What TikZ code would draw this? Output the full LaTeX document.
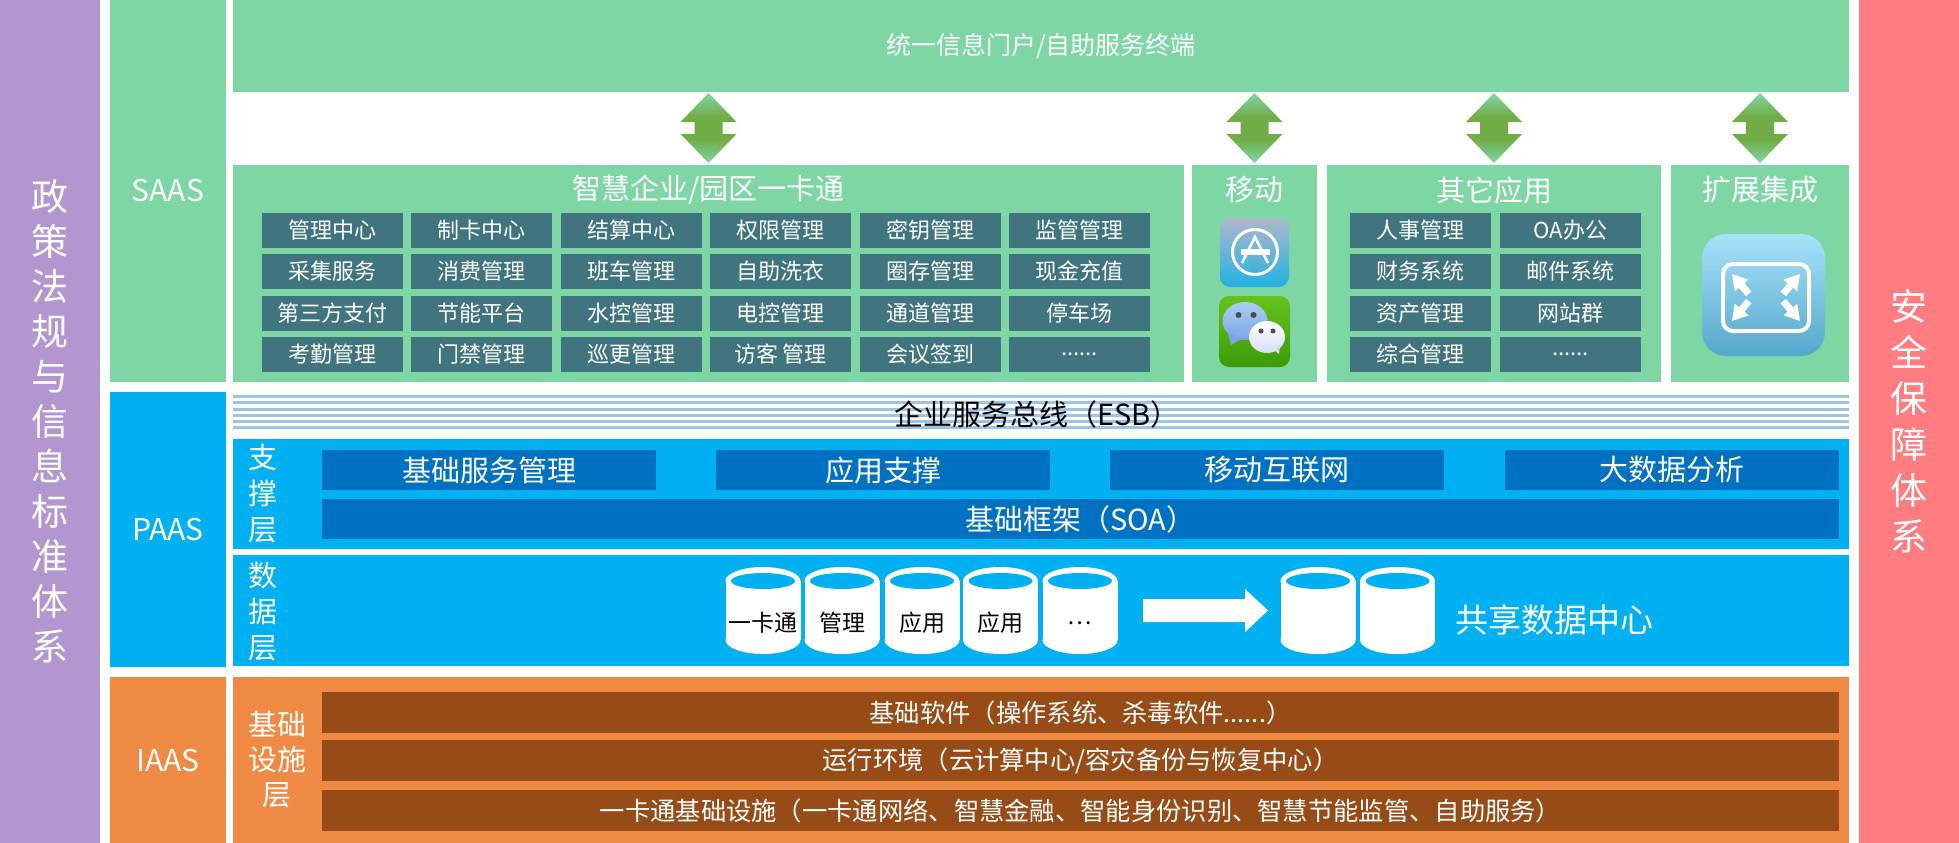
\documentclass[tikz,border=0pt]{standalone}
\usepackage{fontspec}
\setmainfont{Noto Sans CJK SC}
\usepackage{xcolor}
\definecolor{purplebar}{HTML}{B396D0}
\definecolor{redbar}{HTML}{FF7C80}
\definecolor{saasgreen}{HTML}{7FD6A5}
\definecolor{cellteal}{HTML}{40757F}
\definecolor{paasblue}{HTML}{00B0F0}
\definecolor{darkblue}{HTML}{0070C0}
\definecolor{esbstripe}{HTML}{9DC3E6}
\definecolor{iaasorange}{HTML}{EF8A45}
\definecolor{iaasbrown}{HTML}{974C18}
\definecolor{arrowgreen}{HTML}{70AD47}
\definecolor{apptop}{HTML}{AEB7CC}
\definecolor{appmid}{HTML}{0F6CB0}
\definecolor{appbot}{HTML}{22B2E2}
\definecolor{chattop}{HTML}{66C221}
\definecolor{chatbot}{HTML}{3D9A05}
\definecolor{bubbletop}{HTML}{A9CDF3}
\definecolor{bubblebot}{HTML}{7FA5E8}
\definecolor{bubblelow}{HTML}{D5DDF5}
\definecolor{expandtop}{HTML}{A8E2F8}
\definecolor{expandmid}{HTML}{78CDEB}
\definecolor{expandbot}{HTML}{55A8CC}
\newcommand{\fs}[1]{\fontsize{#1}{#1}\selectfont}
\newcommand{\moredots}{.\kern0pt.\kern0pt.\kern0pt.\kern0pt.\kern0pt.}
\pgfdeclareverticalshading{vvshade}{100bp}{color(0bp)=(saasgreen); color(25bp)=(saasgreen); color(42bp)=(arrowgreen); color(58bp)=(arrowgreen); color(75bp)=(saasgreen); color(100bp)=(saasgreen)}
\tikzset{
    box/.style={inner sep=0, text=white},
    cell/.style={box, fill=cellteal, minimum width=141, minimum height=35, font=\fs{22}},
    title/.style={inner sep=0, text=white, font=\fs{29}},
    blue/.style={box, fill=darkblue, minimum height=40, font=\fs{29}},
    brown/.style={box, fill=iaasbrown, minimum width=1517, minimum height=41, font=\fs{25.3}},
    layer/.style={inner sep=0, text=white, align=center, font=\fontsize{29}{36}\selectfont},
    dblabel/.style={inner sep=0, text=black, font=\fs{23}}
}
\begin{document}
\begin{tikzpicture}[x=1pt, y=-1pt]
    \useasboundingbox (0,0) rectangle (1959,843);
    % colonnes
    \node[box, fill=purplebar, minimum width=100, minimum height=843, align=center, font=\fontsize{37}{45}\selectfont] (policy) at (50,421.5) {政\\策\\法\\规\\与\\信\\息\\标\\准\\体\\系};
    \node[box, fill=redbar, minimum width=100, minimum height=843, align=center, font=\fontsize{37}{46}\selectfont] (safety) at (1909,421.5) {安\\全\\保\\障\\体\\系};
    \node[box, fill=saasgreen, minimum width=116, minimum height=382, font=\fs{30}] (saas) at (168,191) {SAAS};
    \node[box, fill=paasblue, minimum width=116, minimum height=275, font=\fs{30}] (paas) at (168,529.5) {PAAS};
    \node[box, fill=iaasorange, minimum width=116, minimum height=166, font=\fs{30}] (iaas) at (168,760) {IAAS};

    % saas
    \node[box, fill=saasgreen, minimum width=1616, minimum height=92, font=\fs{25}] (portal) at (1041,46) {统一信息门户/自助服务终端};
    \foreach \ax in {708.5,1254.5,1494,1760} {
        \shade[shading=vvshade] (\ax,93) -- (\ax+28,122) -- (\ax+14,122) -- (\ax+14,134) -- (\ax+28,134) -- (\ax,163) -- (\ax-28,134) -- (\ax-14,134) -- (\ax-14,122) -- (\ax-28,122) -- cycle;
    }
    \node[box, fill=saasgreen, minimum width=951, minimum height=217] (campus) at (708.5,273.5) {};
    \node[box, fill=saasgreen, minimum width=125, minimum height=217] (mobile) at (1254.5,273.5) {};
    \node[box, fill=saasgreen, minimum width=334, minimum height=217] (other) at (1494,273.5) {};
    \node[box, fill=saasgreen, minimum width=178, minimum height=217] (extend) at (1760,273.5) {};
    \node[title] (campustitle) at (708.5,190) {智慧企业/园区一卡通};
    \node[title] (mobiletitle) at (1254.5,190) {移动};
    \node[title] (othertitle) at (1494,190) {其它应用};
    \node[title] (extendtitle) at (1760,190) {扩展集成};

    \foreach \cy/\ra/\rb/\rc/\rd/\re/\rf [count=\r] in {
        230.5/管理中心/制卡中心/结算中心/权限管理/密钥管理/监管管理,
        271.5/采集服务/消费管理/班车管理/自助洗衣/圈存管理/现金充值,
        313/第三方支付/节能平台/水控管理/电控管理/通道管理/停车场,
        354.5/考勤管理/门禁管理/巡更管理/访客 管理/会议签到/\moredots} {
        \node[cell] (a\r) at (332.5,\cy) {\ra};
        \node[cell] (b\r) at (481.5,\cy) {\rb};
        \node[cell] (c\r) at (631.5,\cy) {\rc};
        \node[cell] (d\r) at (780.5,\cy) {\rd};
        \node[cell] (e\r) at (930.5,\cy) {\re};
        \node[cell] (f\r) at (1079.5,\cy) {\rf};
    }
    \foreach \cy/\ra/\rb [count=\r] in {
        230.5/人事管理/OA办公,
        271.5/财务系统/邮件系统,
        313/资产管理/网站群,
        354.5/综合管理/\moredots} {
        \node[cell] (oa\r) at (1420.5,\cy) {\ra};
        \node[cell] (ob\r) at (1570.5,\cy) {\rb};
    }

    % icones
    \shade[rounded corners=10, top color=apptop, middle color=appmid, bottom color=appbot] (1220,218) rectangle (1289,287);
    \draw[white, line width=3] (1255,252) circle (22.5);
    \fill[white] (1241,249) rectangle (1270,255);
    \draw[white, line width=2.5] (1242,263) -- (1255,237) -- (1268,263);
    \shade[rounded corners=10, top color=chattop, bottom color=chatbot] (1219,296) rectangle (1290,367);
    \shade[top color=bubbletop, bottom color=bubblebot] (1245,321) ellipse [x radius=22.5, y radius=19];
    \fill[bubblebot] (1228,333) -- (1231,345) -- (1243,338) -- cycle;
    \fill[black!70] (1238.5,315) circle (3) (1253.5,315) circle (3);
    \shade[top color=white, bottom color=bubblelow] (1267,337) ellipse [x radius=18, y radius=16];
    \fill[bubblelow] (1274,350) -- (1279,354) -- (1280,344) -- cycle;
    \fill[black!70] (1261,331) circle (2.5) (1273,331) circle (2.5);
    \shade[rounded corners=24, top color=expandtop, middle color=expandmid, bottom color=expandbot] (1702,234) rectangle (1825,356);
    \draw[white, line width=4, rounded corners=10] (1723,264) rectangle (1809,331);
    \foreach \tx/\ty/\ang in {1732/274/130,1800/274/50,1732/321/230,1800/321/310} {
        \begin{scope}[shift={(\tx,\ty)}, rotate=\ang]
            \fill[white] (0,0) -- (-15,-9) -- (-15,-3.5) -- (-26,-3.5) -- (-26,3.5) -- (-15,3.5) -- (-15,9) -- cycle;
        \end{scope}
    }

    % paas
    \foreach \sy in {395,401.3,407.7,414,420,426} {
        \fill[esbstripe] (233,\sy) rectangle (1849,\sy+3);
    }
    \node[inner sep=0, text=black, font=\fs{29}] (esb) at (1037,414) {企业服务总线（ESB）};
    \node[box, fill=paasblue, minimum width=1616, minimum height=110] (support) at (1041,494) {};
    \node[box, fill=paasblue, minimum width=1616, minimum height=111] (data) at (1041,610.5) {};
    \node[layer] (supportlabel) at (263,494) {支\\撑\\层};
    \node[layer] (datalabel) at (263,611.5) {数\\据\\层};
    \node[blue, minimum width=334] (base) at (489,470) {基础服务管理};
    \node[blue, minimum width=334] (appsup) at (883,470) {应用支撑};
    \node[blue, minimum width=334] (mobnet) at (1277,470) {移动互联网};
    \node[blue, minimum width=334] (bigdata) at (1672,470) {大数据分析};
    \node[blue, minimum width=1517] (soa) at (1080.5,519) {基础框架（SOA）};

    % cylindres
    \foreach \cx/\lab [count=\i] in {763/一卡通,842/管理,922/应用,1000.5/应用,1080/…,1318/{},1397.5/{}} {
        \fill[white] (\cx,581) ellipse [x radius=37.5, y radius=14];
        \fill[white] (\cx-37.5,581) rectangle (\cx+37.5,640);
        \fill[white] (\cx,640) ellipse [x radius=37.5, y radius=14];
        \fill[paasblue] (\cx,581) ellipse [x radius=32, y radius=8];
        \node[dblabel] (db\i) at (\cx,623) {\lab};
    }
    \fill[white] (1143,599) -- (1245,599) -- (1245,589) -- (1268,610.5) -- (1245,632) -- (1245,622) -- (1143,622) -- cycle;
    \node[box, font=\fs{33}] (shared) at (1554,620) {共享数据中心};

    % iaas
    \node[box, fill=iaasorange, minimum width=1616, minimum height=166] (infra) at (1041,760) {};
    \node[layer, font=\fontsize{29}{35}\selectfont] (infralabel) at (277,760) {基础\\设施\\层};
    \node[brown] (soft) at (1080.5,712.5) {基础软件（操作系统、杀毒软件......）};
    \node[brown] (run) at (1080.5,760.5) {运行环境（云计算中心/容灾备份与恢复中心）};
    \node[brown] (card) at (1080.5,810.5) {一卡通基础设施（一卡通网络、智慧金融、智能身份识别、智慧节能监管、自助服务）};
\end{tikzpicture}
\end{document}
